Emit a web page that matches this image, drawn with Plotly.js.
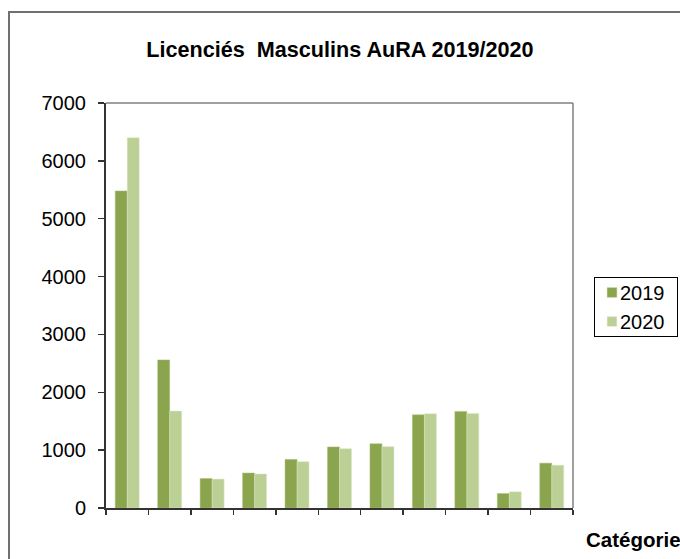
<!DOCTYPE html>
<html>
<head>
<meta charset="utf-8">
<script src="https://cdn.plot.ly/plotly-3.0.1.min.js"></script>
<style>html,body{margin:0;padding:0;background:#fff;overflow:hidden;}#chart{width:680px;height:559px;}</style>
</head>
<body>
<div id="chart"></div>
<script>
const categories = ["Cat. 1","Cat. 2","Cat. 3","Cat. 4","Cat. 5","Cat. 6","Cat. 7","Cat. 8","Cat. 9","Cat. 10","Cat. 11"];
const values2019 = [5480, 2560, 510, 605, 840, 1055, 1110, 1610, 1670, 250, 775];
const values2020 = [6400, 1675, 500, 588, 800, 1025, 1060, 1630, 1635, 280, 740];
const yTicks = [0, 1000, 2000, 3000, 4000, 5000, 6000, 7000];

const FONT = '"Liberation Sans", Arial, sans-serif';

const traces = [
  {type:'bar', name:'2019', x:categories, y:values2019,
   marker:{color:'#8BA54E', line:{color:'#A9C070', width:0.5}}},
  {type:'bar', name:'2020', x:categories, y:values2020,
   marker:{color:'#BCD096', line:{color:'#DCE8C6', width:0.5}}}
];

const layout = {
  width:680, height:559,
  margin:{l:106, r:107, t:103, b:51, pad:0, autoexpand:false},
  paper_bgcolor:'#fff', plot_bgcolor:'#fff',
  font:{family:FONT, color:'#000', size:20},
  title:{text:'Licenciés  Masculins AuRA 2019/2020', x:0.5, xanchor:'center',
         y:1-49/559, yanchor:'middle', font:{family:FONT, size:21.6, weight:'bold', color:'#000'}},
  barmode:'group', bargap:0.435, bargroupgap:0,
  xaxis:{type:'category', showticklabels:false, ticks:'outside', tickson:'boundaries',
         ticklen:5, tickwidth:1.5, tickcolor:'#333', showline:true, linecolor:'#333', linewidth:2,
         showgrid:false, zeroline:false, fixedrange:true},
  yaxis:{range:[0,7000], tickvals:yTicks, ticktext:yTicks.map(String), ticks:'outside', ticklen:6,
         tickwidth:1.5, tickcolor:'#333', showline:true, linecolor:'#333', linewidth:2,
         showgrid:false, zeroline:false, tickfont:{size:20, family:FONT}, ticklabelstandoff:8},
  showlegend:true,
  legend:{x:(594-106)/467, xanchor:'left', y:(508-277)/405, yanchor:'top',
          bordercolor:'#000', borderwidth:1, bgcolor:'#fff',
          font:{size:20, family:FONT}, tracegroupgap:0, itemwidth:30},
  shapes:[
    {type:'line', xref:'paper', yref:'paper', x0:0, x1:1, y0:1, y1:1, line:{color:'#808080', width:1.5}},
    {type:'line', xref:'paper', yref:'paper', x0:1, x1:1, y0:0, y1:1, line:{color:'#808080', width:1.5}},
    {type:'rect', xref:'paper', yref:'paper', x0:(9-106)/467, x1:(700-106)/467, y0:(508-600)/405, y1:(508-12)/405,
     line:{color:'#707070', width:2}, fillcolor:'rgba(0,0,0,0)', layer:'below'}
  ],
  annotations:[
    {text:'<b>Catégorie</b>', xref:'paper', yref:'paper', x:(584-106)/467, y:(508-539)/405,
     xanchor:'left', yanchor:'middle', showarrow:false, font:{size:20.5, family:FONT, color:'#000'}}
  ]
};

Plotly.newPlot('chart', traces, layout, {staticPlot:true, displayModeBar:false}).then(function(gd){
  const leg = document.querySelector('.legend');
  if (!leg) return;
  const bg = leg.querySelector('rect.bg');
  if (bg) { bg.setAttribute('width', '83'); bg.setAttribute('height', '59'); }
  leg.querySelectorAll('.traces').forEach(function(t){
    const tr = t.getAttribute('transform') || '';
    const m = tr.match(/translate\(\s*([-\d.]+)[ ,]+([-\d.]+)\s*\)/);
    if (m) t.setAttribute('transform', 'translate(' + m[1] + ',' + (parseFloat(m[2]) - 5) + ')');
  });
  leg.querySelectorAll('.legendpoints path').forEach(function(p){
    p.setAttribute('transform', 'translate(17,0) scale(0.8)');
  });
  leg.querySelectorAll('text.legendtext').forEach(function(t){
    t.setAttribute('x', '25');
  });
});
</script>
</body>
</html>
